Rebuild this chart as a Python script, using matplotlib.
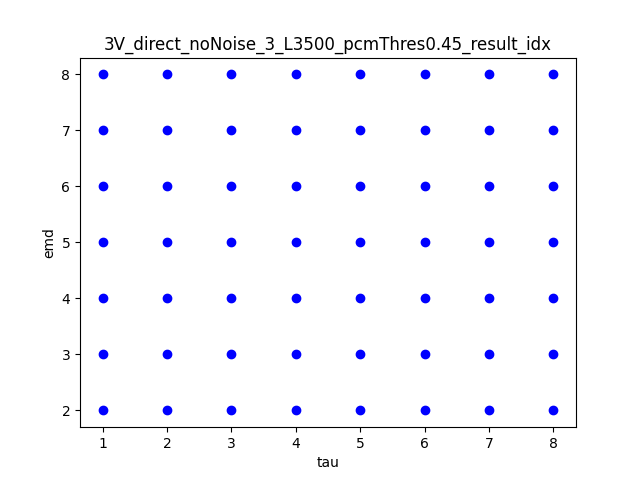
import matplotlib
matplotlib.use("Agg")
import matplotlib.pyplot as plt

# grid of (tau, emd) combinations that produced a result
tau_vals = [1, 2, 3, 4, 5, 6, 7, 8]
emd_vals = [2, 3, 4, 5, 6, 7, 8]

title = "3V_direct_noNoise_3_L3500_pcmThres0.45_result_idx"

fig, ax = plt.subplots(figsize=(6.4, 4.8), dpi=100)

for t in tau_vals:
    for e in emd_vals:
        ax.plot(t, e, "bo")

ax.set_xlabel("tau")
ax.set_ylabel("emd")
ax.set_title(title)

fig.savefig("out.png", dpi=100)
plt.close(fig)
